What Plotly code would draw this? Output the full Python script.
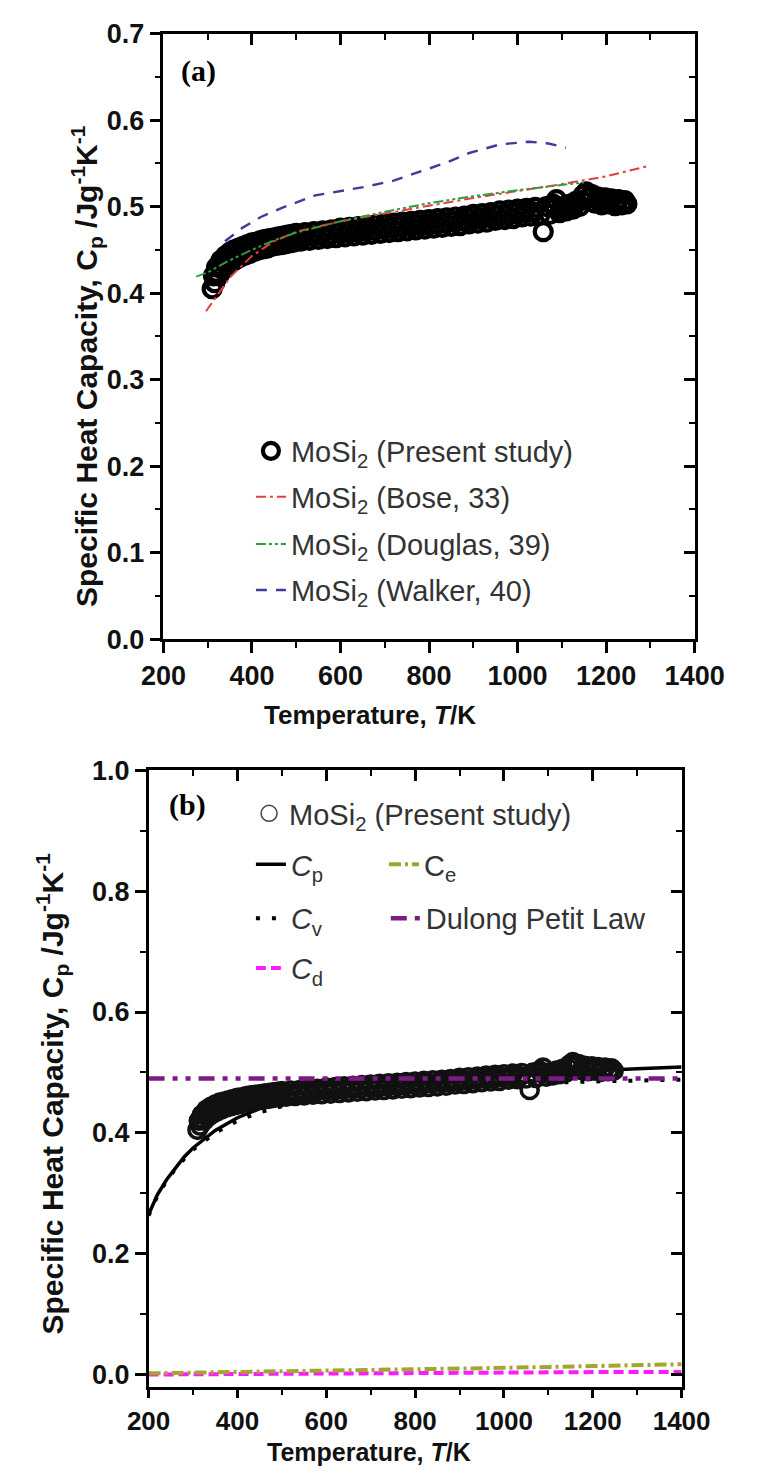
import plotly.graph_objects as go

# ---------------- data ----------------
# present study, run 1 (read from the upper / lower edges of the dense band)
T_present = [310, 313, 316, 320, 325, 330, 335, 340, 345, 350, 355, 360, 365, 370, 375, 380, 385,
             390, 395, 400, 405, 410, 415, 420, 425, 430, 435, 440, 445, 450, 455, 460, 465, 470,
             475, 480, 485, 490, 495, 500, 510, 520, 530, 540, 550, 560, 570, 580, 590, 600, 610,
             620, 630, 640, 650, 660, 670, 680, 690, 700, 710, 720, 730, 740, 750, 760, 770, 780,
             790, 800, 810, 820, 830, 840, 850, 860, 870, 880, 890, 900, 910, 920, 930, 940, 950,
             960, 970, 980, 990, 1000, 1010, 1020, 1030, 1040, 1050, 1058, 1065, 1072, 1080, 1088,
             1095, 1102, 1110, 1118, 1125, 1132, 1140, 1148, 1155, 1160, 1168, 1175, 1182, 1190,
             1198, 1205, 1212, 1220, 1228, 1235, 1242, 1247]
cp_present = [0.405, 0.420, 0.412, 0.430, 0.420, 0.438, 0.427, 0.443, 0.432, 0.447, 0.436, 0.450,
              0.439, 0.452, 0.442, 0.454, 0.444, 0.456, 0.446, 0.458, 0.448, 0.459, 0.450, 0.461,
              0.451, 0.462, 0.452, 0.463, 0.454, 0.464, 0.455, 0.465, 0.456, 0.466, 0.457, 0.467,
              0.458, 0.468, 0.459, 0.469, 0.460, 0.470, 0.461, 0.471, 0.462, 0.472, 0.463, 0.473,
              0.464, 0.475, 0.465, 0.476, 0.466, 0.477, 0.467, 0.478, 0.468, 0.479, 0.469, 0.480,
              0.470, 0.481, 0.471, 0.482, 0.472, 0.483, 0.473, 0.484, 0.474, 0.485, 0.475, 0.486,
              0.476, 0.487, 0.477, 0.488, 0.478, 0.489, 0.480, 0.491, 0.481, 0.492, 0.482, 0.493,
              0.484, 0.495, 0.485, 0.496, 0.486, 0.497, 0.488, 0.498, 0.489, 0.499, 0.490, 0.471,
              0.500, 0.491, 0.503, 0.508, 0.493, 0.500, 0.495, 0.503, 0.497, 0.506, 0.500, 0.513,
              0.517, 0.510, 0.514, 0.504, 0.511, 0.502, 0.510, 0.503, 0.509, 0.501, 0.508, 0.502,
              0.507, 0.503]
# present study, run 2 (middle of the band)
T_present2 = [318, 328, 338, 348, 358, 368, 378, 388, 398, 408, 418, 428, 438, 448, 458, 468, 478,
              488, 498, 515, 535, 555, 575, 595, 615, 635, 655, 675, 695, 715, 735, 755, 775, 795,
              815, 835, 855, 875, 895, 915, 935, 955, 975, 995, 1015, 1035, 1085, 1105, 1128, 1145,
              1165, 1185, 1205, 1225, 1240]
cp_present2 = [0.424, 0.432, 0.436, 0.440, 0.443, 0.446, 0.448, 0.450, 0.452, 0.453, 0.455, 0.456,
               0.457, 0.459, 0.460, 0.461, 0.462, 0.463, 0.464, 0.465, 0.466, 0.467, 0.468, 0.470,
               0.471, 0.472, 0.473, 0.474, 0.475, 0.476, 0.477, 0.478, 0.479, 0.480, 0.481, 0.482,
               0.483, 0.484, 0.486, 0.487, 0.488, 0.490, 0.491, 0.492, 0.493, 0.494, 0.499, 0.498,
               0.502, 0.507, 0.512, 0.507, 0.506, 0.505, 0.505]

T_bose = [296, 350, 400, 450, 500, 600, 700, 800, 900, 1000, 1100, 1200, 1296]
cp_bose = [0.379, 0.418, 0.443, 0.460, 0.471, 0.483, 0.492, 0.501, 0.510, 0.518, 0.526, 0.535, 0.547]

T_douglas = [274, 300, 350, 400, 450, 500, 600, 700, 800, 900, 1000, 1100, 1150]
cp_douglas = [0.419, 0.424, 0.438, 0.450, 0.461, 0.470, 0.483, 0.494, 0.504, 0.512, 0.519, 0.525, 0.528]

T_walker = [339, 380, 420, 465, 543, 600, 657, 720, 787, 840, 891, 961, 1026, 1070, 1109]
cp_walker = [0.460, 0.476, 0.488, 0.498, 0.513, 0.518, 0.523, 0.530, 0.542, 0.551, 0.562, 0.572, 0.575, 0.573, 0.568]

T_model = [200, 220, 240, 260, 280, 300, 350, 400, 450, 500, 600, 700, 800, 900, 1000, 1100, 1200, 1300, 1400]
cp_model = [0.265, 0.298, 0.322, 0.342, 0.360, 0.375, 0.404, 0.425, 0.440, 0.451, 0.466, 0.476, 0.483,
            0.489, 0.494, 0.499, 0.503, 0.506, 0.509]
cv_model = [0.263, 0.296, 0.320, 0.340, 0.357, 0.372, 0.400, 0.420, 0.434, 0.444, 0.458, 0.466, 0.472,
            0.476, 0.480, 0.483, 0.485, 0.486, 0.488]

T_small = [200, 400, 600, 800, 1000, 1200, 1400]
ce_model = [0.002, 0.004, 0.006, 0.009, 0.011, 0.014, 0.017]
cd_model = [0.000, 0.001, 0.002, 0.002, 0.003, 0.004, 0.004]

T_dp = [200, 1400]
cp_dp = [0.490, 0.490]

# ---------------- layout helpers ----------------
W, H = 760, 1479
SANS = "Liberation Sans"
SERIF = "Liberation Serif"


def fx(p):
    return p / W


def fy(p):
    return 1 - p / H


# panel pixel boxes (left, right, top, bottom)
A = (151, 722, 19, 637)
B = (135, 708, 771, 1400)

T_all = T_present + T_present2
cp_all = cp_present + cp_present2

fig = go.Figure()

leg_font = dict(family=SANS, size=29, color="#333")

# ---- panel (a) ----
fig.add_trace(go.Scatter(x=T_all, y=cp_all, mode="markers", name="MoSi<sub>2</sub> (Present study)",
                         marker=dict(symbol="circle-open", size=17, color="black", line=dict(width=4.2)),
                         xaxis="x", yaxis="y", legend="legend"))
fig.add_trace(go.Scatter(x=T_bose, y=cp_bose, mode="lines", name="MoSi<sub>2</sub> (Bose, 33)",
                         line=dict(color="#e2403c", width=2, dash="10px,4px,3px,4px"),
                         xaxis="x", yaxis="y", legend="legend2"))
fig.add_trace(go.Scatter(x=T_douglas, y=cp_douglas, mode="lines", name="MoSi<sub>2</sub> (Douglas, 39)",
                         line=dict(color="#2f9a3f", width=2, dash="10px,3px,3px,3px,3px,3px"),
                         xaxis="x", yaxis="y", legend="legend3"))
fig.add_trace(go.Scatter(x=T_walker, y=cp_walker, mode="lines", name="MoSi<sub>2</sub> (Walker, 40)",
                         line=dict(color="#3c3c9c", width=2.4, dash="11px,9px"),
                         xaxis="x", yaxis="y", legend="legend4"))
fig.add_trace(go.Scatter(x=[None], y=[None], xaxis="x3", yaxis="y3", showlegend=False, hoverinfo="skip"))

# ---- panel (b) ----
fig.add_trace(go.Scatter(x=T_model, y=cp_model, mode="lines", name="<i>C</i><sub>p</sub>",
                         line=dict(color="black", width=3.5),
                         xaxis="x2", yaxis="y2", legend="legend6"))
fig.add_trace(go.Scatter(x=T_model, y=cv_model, mode="lines", name="<i>C</i><sub>v</sub>",
                         line=dict(color="black", width=4, dash="4px,12px"),
                         xaxis="x2", yaxis="y2", legend="legend7"))
fig.add_trace(go.Scatter(x=T_small, y=cd_model, mode="lines", name="<i>C</i><sub>d</sub>",
                         line=dict(color="#ff1aff", width=4, dash="10px,5px"),
                         xaxis="x2", yaxis="y2", legend="legend8"))
fig.add_trace(go.Scatter(x=T_small, y=ce_model, mode="lines", name="C<sub>e</sub>",
                         line=dict(color="#a3a62e", width=4, dash="12px,4px,3px,4px"),
                         xaxis="x2", yaxis="y2", legend="legend9"))
fig.add_trace(go.Scatter(x=T_all, y=cp_all, mode="markers", name="MoSi<sub>2</sub> (Present study)",
                         marker=dict(symbol="circle-open", size=17, color="#111", line=dict(width=3.6)),
                         xaxis="x2", yaxis="y2", showlegend=False))
fig.add_trace(go.Scatter(x=[None], y=[None], mode="markers", name="MoSi<sub>2</sub> (Present study)",
                         marker=dict(symbol="circle-open", size=17, color="#444", line=dict(width=1.5)),
                         xaxis="x2", yaxis="y2", legend="legend5", hoverinfo="skip"))
fig.add_trace(go.Scatter(x=T_dp, y=cp_dp, mode="lines", name="Dulong Petit Law",
                         line=dict(color="#7d1a86", width=4.5, dash="16px,8px,5px,8px,5px,8px"),
                         xaxis="x2", yaxis="y2", legend="legend10"))
fig.add_trace(go.Scatter(x=[None], y=[None], xaxis="x4", yaxis="y4", showlegend=False, hoverinfo="skip"))

tickfont = dict(family=SANS, size=27, color="#111", weight="bold")
base = dict(showgrid=False, zeroline=False, showline=True, linecolor="black", linewidth=2.5,
            mirror=True, ticks="outside", ticklen=11, tickwidth=2.5, tickcolor="black",
            tickfont=tickfont, fixedrange=True)
inner = dict(showgrid=False, zeroline=False, showline=False, ticks="inside", ticklen=11,
             tickwidth=2.5, tickcolor="black", showticklabels=False, fixedrange=True)

xdomA = [fx(A[0]), fx(A[1])]
ydomA = [fy(A[3]), fy(A[2])]
xdomB = [fx(B[0]), fx(B[1])]
ydomB = [fy(B[3]), fy(B[2])]

xr = [200, 1400]
yrA = [0, 0.7]
yrB = [-0.02, 1.0]

mo = dict(ticks="outside", ticklen=6, tickwidth=2, tickcolor="black")
mi = dict(ticks="inside", ticklen=6, tickwidth=2, tickcolor="black")

fig.update_layout(
    width=W, height=H,
    margin=dict(l=0, r=0, t=0, b=0),
    paper_bgcolor="white", plot_bgcolor="white",
    xaxis=dict(base, domain=xdomA, range=xr, tick0=200, dtick=200, anchor="y", minor=dict(mo, dtick=100)),
    yaxis=dict(base, domain=ydomA, range=yrA, tick0=0, dtick=0.1, tickformat=".1f", anchor="x",
               minor=dict(mo, dtick=0.05)),
    xaxis3=dict(inner, overlaying="x", side="top", anchor="y3", range=xr, tick0=200, dtick=200,
                minor=dict(mi, dtick=100)),
    yaxis3=dict(inner, overlaying="y", side="right", anchor="x3", range=yrA, tick0=0, dtick=0.1,
                minor=dict(mi, dtick=0.05)),
    xaxis2=dict(base, domain=xdomB, range=xr, tick0=200, dtick=200, anchor="y2", ticklen=9,
                tickfont=dict(tickfont, size=26), minor=dict(mo, dtick=100)),
    yaxis2=dict(base, domain=ydomB, range=yrB, tick0=0, dtick=0.2, tickformat=".1f", anchor="x2",
                minor=dict(mo, dtick=0.1)),
    xaxis4=dict(inner, overlaying="x2", side="top", anchor="y4", range=xr, tick0=200, dtick=200,
                minor=dict(mi, dtick=100)),
    yaxis4=dict(inner, overlaying="y2", side="right", anchor="x4", range=yrB, tick0=0, dtick=0.2,
                minor=dict(mi, dtick=0.1)),
    showlegend=True,
)

# legends: (name, left px, center y px)
legend_pos = {
    "legend": (245, 445),
    "legend2": (245, 492),
    "legend3": (245, 540),
    "legend4": (245, 587),
    "legend5": (243, 815),
    "legend6": (245, 867),
    "legend7": (245, 922),
    "legend8": (245, 973),
    "legend9": (388, 867),
    "legend10": (390, 922),
}
for key, (lx, ly) in legend_pos.items():
    fig.update_layout({key: dict(x=fx(lx), y=fy(ly), xanchor="left", yanchor="middle",
                                 bgcolor="rgba(0,0,0,0)", borderwidth=0, font=leg_font,
                                 itemclick=False, itemdoubleclick=False)})

xt_font = dict(family=SANS, size=25, color="#111", weight="bold")
yt_font = dict(family=SANS, size=30, color="#111", weight="bold")
annos = [
    dict(text="<b>(a)</b>", x=fx(189), y=fy(57), font=dict(family=SERIF, size=30, color="black")),
    dict(text="<b>(b)</b>", x=fx(177), y=fy(806), font=dict(family=SERIF, size=30, color="black")),
    dict(text="Temperature, <i>T</i>/K", x=fx(373), y=fy(714), font=dict(xt_font, size=26)),
    dict(text="Temperature, <i>T</i>/K", x=fx(372), y=fy(1467), font=xt_font),
    dict(text="Specific Heat Capacity, C<sub>p</sub> /Jg<sup>-1</sup>K<sup>-1</sup>", x=fx(68), y=fy(358),
         textangle=-90, font=yt_font),
    dict(text="Specific Heat Capacity, C<sub>p</sub> /Jg<sup>-1</sup>K<sup>-1</sup>", x=fx(31), y=fy(1101),
         textangle=-90, font=yt_font),
]
for a in annos:
    a.update(xref="paper", yref="paper", showarrow=False, xanchor="center", yanchor="middle")
fig.update_layout(annotations=annos)

fig.write_html("out.html")
